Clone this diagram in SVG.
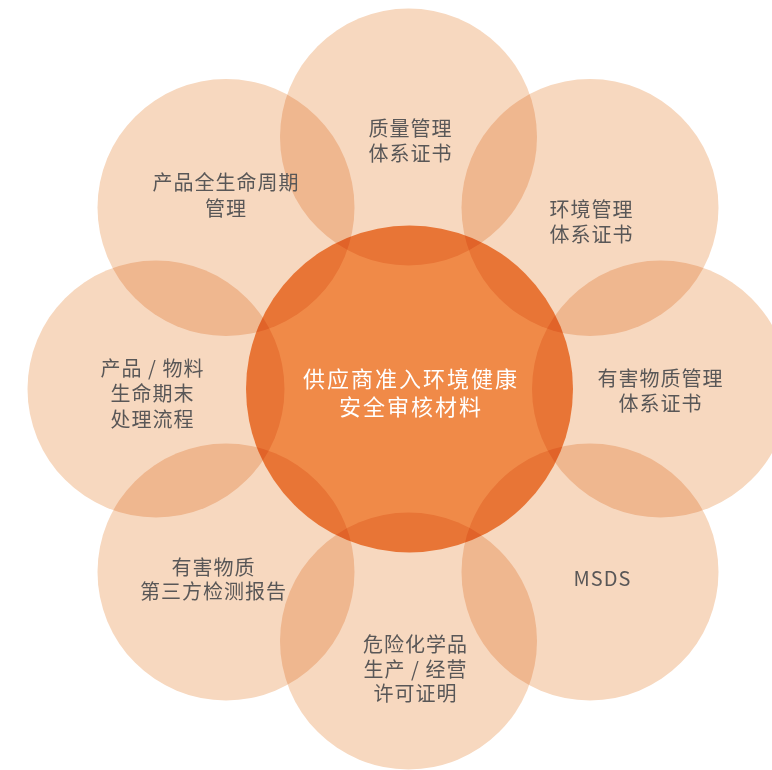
<svg xmlns="http://www.w3.org/2000/svg" width="772" height="770" viewBox="0 0 772 770">
<style>
.petal{fill:#F7D8BF;mix-blend-mode:multiply}
.core{fill:#F08A48;mix-blend-mode:multiply}
.t{font-family:"Noto Sans CJK SC","Noto Sans",sans-serif;font-size:20px;fill:#595757;text-anchor:middle;dominant-baseline:central;letter-spacing:1px}
.c{font-family:"Noto Sans CJK SC","Noto Sans",sans-serif;font-size:22px;fill:#FFFFFF;text-anchor:middle;dominant-baseline:central;letter-spacing:2px}
</style>
<rect width="772" height="770" fill="#FFFFFF"/>
<g id="petals">
<g id="p-top"><circle class="petal" cx="408.5" cy="137" r="128.5"/></g>
<g id="p-ur"><circle class="petal" cx="590" cy="207.5" r="128.5"/></g>
<g id="p-right"><circle class="petal" cx="660.5" cy="389" r="128.5"/></g>
<g id="p-lr"><circle class="petal" cx="590" cy="572" r="128.5"/></g>
<g id="p-bottom"><circle class="petal" cx="408.5" cy="641" r="128.5"/></g>
<g id="p-ll"><circle class="petal" cx="226" cy="572" r="128.5"/></g>
<g id="p-left"><circle class="petal" cx="156" cy="389" r="128.5"/></g>
<g id="p-ul"><circle class="petal" cx="226" cy="207.5" r="128.5"/></g>
</g>
<g id="center"><circle class="core" cx="409.5" cy="389" r="163.5"/></g>
<g id="labels">
<g id="l-top"><text class="t" x="410.5" y="127">质量管理</text><text class="t" x="410.5" y="152">体系证书</text></g>
<g id="l-ur"><text class="t" x="591.5" y="208">环境管理</text><text class="t" x="591.5" y="233">体系证书</text></g>
<g id="l-right"><text class="t" x="660.5" y="377">有害物质管理</text><text class="t" x="660.5" y="402">体系证书</text></g>
<g id="l-lr"><text class="t" x="602.5" y="577">MSDS</text></g>
<g id="l-bottom"><text class="t" x="415.5" y="643">危险化学品</text><text class="t" x="415.5" y="668">生产 / 经营</text><text class="t" x="415.5" y="692">许可证明</text></g>
<g id="l-ll"><text class="t" x="213.5" y="566">有害物质</text><text class="t" x="213.5" y="590">第三方检测报告</text></g>
<g id="l-left"><text class="t" x="152.5" y="367">产品 / 物料</text><text class="t" x="152.5" y="392">生命期末</text><text class="t" x="152.5" y="418">处理流程</text></g>
<g id="l-ul"><text class="t" x="226" y="181">产品全生命周期</text><text class="t" x="226" y="207">管理</text></g>
<g id="l-center"><text class="c" x="411" y="377">供应商准入环境健康</text><text class="c" x="411" y="405">安全审核材料</text></g>
</g>
</svg>
